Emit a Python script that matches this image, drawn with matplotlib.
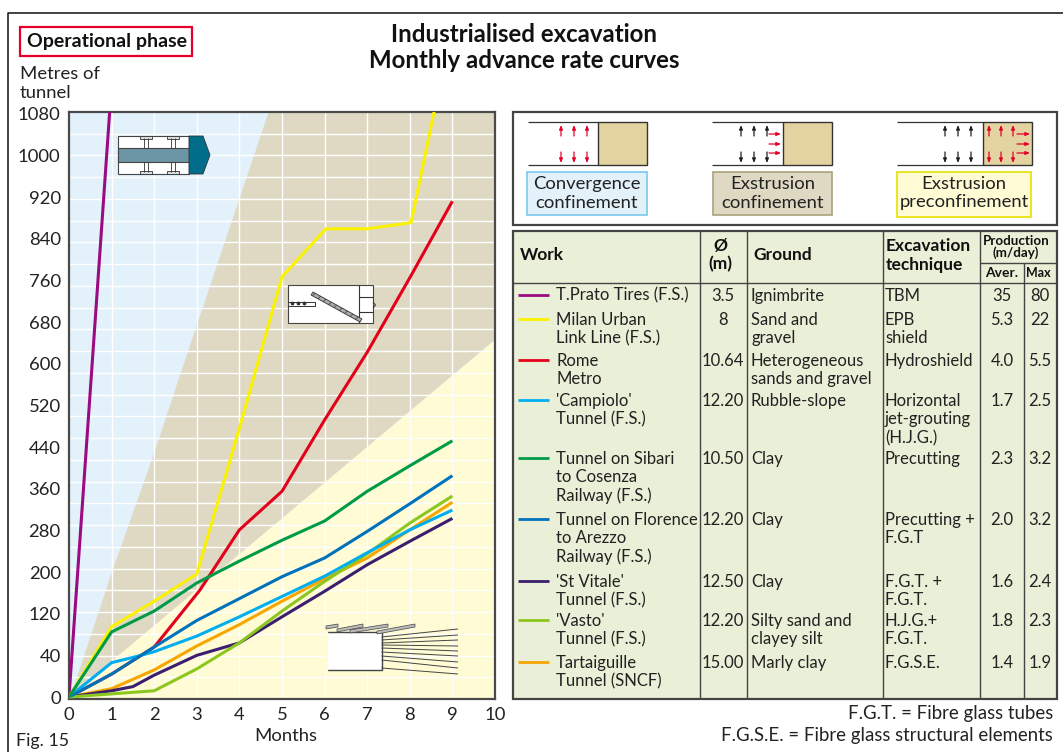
import numpy as np
import matplotlib
matplotlib.use("Agg")
import matplotlib.pyplot as plt
from matplotlib.patches import Rectangle, Polygon
from matplotlib.scale import FuncScale

FONT = "Lato"
plt.rcParams["font.family"] = [FONT, "DejaVu Sans"]
plt.rcParams["hatch.linewidth"] = 0.5
INK = "#222222"
FS = 13.3

# ---------- data ----------
months_full = [0, 1, 2, 3, 4, 5, 6, 7, 8, 9]
prato_x = [0, 0.955]
prato_y = [0, 1084]
milan_x = [0, 1, 2, 3, 4, 5, 6.03, 7, 8.03, 8.57]
milan_y = [0, 95, 144, 196, 476, 767, 859, 859, 871, 1084]
rome_x = [0, 1, 2, 3.07, 4, 5, 6, 7, 8, 9]
rome_y = [0, 22, 56, 165, 281, 355, 492, 622, 765, 912]
campiolo_x = [0, 1, 1.5, 2, 3, 4, 5, 6, 7, 8, 9]
campiolo_y = [0, 33, 38, 47, 77, 114, 153, 192, 237, 281, 319]
sibari_y = [0, 85, 125, 179, 221, 261, 298, 355, 404, 452]
florence_y = [0, 22, 56, 107, 149, 191, 227, 278, 331, 385]
vitale_x = [0, 1, 1.5, 2, 3, 4, 5, 6, 7, 8, 9]
vitale_y = [0, 6, 10, 21, 40, 64, 114, 163, 214, 259, 303]
vasto_y = [0, 3, 6, 27, 64, 125, 182, 235, 294, 346]
tartaiguille_y = [0, 8, 26, 58, 99, 144, 187, 227, 281, 334]

y_ticks = [0, 40, 120, 200, 280, 360, 440, 520, 600, 680, 760, 840, 920, 1000, 1080]
x_ticks = [0, 1, 2, 3, 4, 5, 6, 7, 8, 9, 10]

zone_blue_x = [0, 0.09, 1.0, 2.02, 2.56, 4.69]
zone_blue_y = [0, 7, 198, 433, 567, 1084]
zone_yellow_x = [0, 10, 10, 0]
zone_yellow_y = [0, 646, -2, -2]

colors = {
    "prato": "#9B0A82", "milan": "#FAF200", "rome": "#E2001A", "campiolo": "#00AEEF",
    "sibari": "#009B48", "florence": "#0072BC", "vitale": "#3B1E6E",
    "vasto": "#8CC71F", "tartaiguille": "#F7A600",
}

works = [["T.Prato Tires (F.S.)"], ["Milan Urban", "Link Line (F.S.)"], ["Rome", "Metro"],
         ["'Campiolo'", "Tunnel (F.S.)"], ["Tunnel on Sibari", "to Cosenza", "Railway (F.S.)"],
         ["Tunnel on Florence", "to Arezzo", "Railway (F.S.)"], ["'St Vitale'", "Tunnel (F.S.)"],
         ["'Vasto'", "Tunnel (F.S.)"], ["Tartaiguille", "Tunnel (SNCF)"]]
work_keys = ["prato", "milan", "rome", "campiolo", "sibari", "florence", "vitale", "vasto", "tartaiguille"]
diameters = ["3.5", "8", "10.64", "12.20", "10.50", "12.20", "12.50", "12.20", "15.00"]
grounds = [["Ignimbrite"], ["Sand and", "gravel"], ["Heterogeneous", "sands and gravel"], ["Rubble-slope"],
           ["Clay"], ["Clay"], ["Clay"], ["Silty sand and", "clayey silt"], ["Marly clay"]]
techniques = [["TBM"], ["EPB", "shield"], ["Hydroshield"], ["Horizontal", "jet-grouting", "(H.J.G.)"],
              ["Precutting"], ["Precutting +", "F.G.T"], ["F.G.T. +", "F.G.T."], ["H.J.G.+", "F.G.T."], ["F.G.S.E."]]
aver = ["35", "5.3", "4.0", "1.7", "2.3", "2.0", "1.6", "1.8", "1.4"]
maxi = ["80", "22", "5.5", "2.5", "3.2", "3.2", "2.4", "2.3", "1.9"]

# ---------- figure ----------
W, H = 1063, 752
fig = plt.figure(figsize=(W / 100, H / 100), dpi=100, facecolor="white")
ax = fig.add_axes([69 / W, 1 - 699 / H, 426 / W, 587 / H])


def fwd(v):
    v = np.asarray(v, dtype=float)
    return np.where(v < 40, v * 2, v + 40)


def inv(u):
    u = np.asarray(u, dtype=float)
    return np.where(u < 80, u / 2, u - 40)


ax.set_yscale(FuncScale(ax, (fwd, inv)))
ax.set_xlim(0, 10)
ax.set_ylim(-1.9, 1083.3)
ax.set_facecolor("#DFD9C4")
ax.fill(zone_blue_x + [0], zone_blue_y + [1084], color="#E3F1FB", lw=0, zorder=1)
ax.fill(zone_yellow_x, zone_yellow_y, color="#FEFBD5", lw=0, zorder=1)
for k in range(1, 27):
    ax.plot([0, 1], [k / 27, k / 27], transform=ax.transAxes, color="white", lw=1.0, zorder=2)
for m in x_ticks[1:-1]:
    ax.axvline(m, color="white", lw=1.0, zorder=2)

LW = 2.2
series = [("prato", prato_x, prato_y), ("rome", rome_x, rome_y), ("tartaiguille", months_full, tartaiguille_y),
          ("vitale", vitale_x, vitale_y), ("vasto", months_full, vasto_y),
          ("campiolo", campiolo_x, campiolo_y),
          ("florence", months_full, florence_y), ("milan", milan_x, milan_y),
          ("sibari", months_full, sibari_y)]
for key, xs, ys in series:
    ax.plot(xs, ys, color=colors[key], lw=LW, zorder=3, solid_joinstyle="miter", solid_capstyle="butt")

ax.set_xticks(x_ticks)
ax.set_yticks(y_ticks)
ax.set_yticklabels([str(v) for v in y_ticks])
ax.minorticks_off()
ax.tick_params(length=0, labelsize=FS, labelcolor=INK, pad=6)
for s in ax.spines.values():
    s.set_linewidth(1.6)
    s.set_color("#4a4a4a")

# ---------- overlay in figure pixels ----------
ov = fig.add_axes([0, 0, 1, 1], zorder=5)
ov.set_xlim(0, W)
ov.set_ylim(H, 0)
ov.axis("off")


def T(x, y, s, size=FS, ha="left", weight="normal", color=INK, va="center"):
    ov.text(x, y, s, fontsize=size, ha=ha, va=va, fontweight=weight, color=color, zorder=20)


def L(xs, ys, color="#333333", lw=0.8, z=6):
    ov.plot(xs, ys, color=color, lw=lw, zorder=z, solid_capstyle="butt")


def R(x0, y0, x1, y1, fc="white", ec="#333333", lw=0.8, z=5):
    ov.add_patch(Rectangle((x0, y0), x1 - x0, y1 - y0, facecolor=fc, edgecolor=ec, lw=lw, zorder=z))


# page frame
L([7.5, 7.5, W], [H, 12.5, 12.5], color="#111111", lw=1.1)
R(19.5, 27, 192, 56, fc="white", ec="#E4002B", lw=1.6)
T(27, 41.5, "Operational phase", size=14, weight="bold", color="#111111")
T(524, 35, "Industrialised excavation", size=17.3, ha="center", weight="bold", color="#111111")
T(524, 60, "Monthly advance rate curves", size=17.3, ha="center", weight="bold", color="#111111")
T(20, 74, "Metres of")
T(20, 93, "tunnel")
T(16, 741, "Fig. 15", size=12.8)
T(286, 736, "Months", ha="center")
T(1053, 714, "F.G.T. = Fibre glass tubes", ha="right", size=13.45)
T(1053, 735, "F.G.S.E. = Fibre glass structural elements", ha="right", size=13.45)

# TBM schematic
R(118, 136, 189, 174, fc="white", ec="#444444")
R(118, 148, 189, 162, fc="#6C96A5", ec="#444444")
for cx in [146, 173]:
    for y0, y1 in [(138, 148), (162, 172)]:
        L([cx - 2, cx - 2], [y0, y1], lw=0.6)
        L([cx + 2, cx + 2], [y0, y1], lw=0.6)
    R(cx - 6, 136, cx + 6, 139, fc="#dddddd", lw=0.6)
    R(cx - 6, 171, cx + 6, 174, fc="#dddddd", lw=0.6)
ov.add_patch(Polygon([(189, 136), (203, 136), (210, 155), (203, 174), (189, 174)],
                     facecolor="#006D8A", edgecolor="#333333", lw=0.6, zorder=6))

# Pre-support schematic
R(288, 285, 373, 323, fc="white", ec="#444444")
L([288, 315, 315, 288], [301.5, 301.5, 306, 306], lw=0.7)
L([359, 359], [285, 323])
L([359, 373], [297, 297])
L([359, 373], [312, 312])
L([373, 375.5, 373], [302, 305, 308], lw=0.7)
ov.scatter([292, 298, 304], [302.5, 302.5, 302.5], s=3, color="#333333", zorder=7)
ov.add_patch(Polygon([(311, 295), (313, 292), (362, 319), (360, 322)],
                     facecolor="#aaaaaa", edgecolor="#333333", lw=0.6, hatch="////", zorder=6))

# Umbrella schematic
R(326, 632, 381.5, 670, fc="white", ec="#444444", lw=1.0)
ov.add_patch(Rectangle((325, 625), 2, 46, color="#FEFBD5", zorder=6))
for (x0, y0, x1, y1) in [(326, 626, 338, 624), (337, 629, 363, 624), (350, 630, 388, 624), (377, 631, 415, 624)]:
    ov.add_patch(Polygon([(x0, y0), (x1, y1), (x1, y1 + 3), (x0, y0 + 3)],
                         facecolor="#bbbbbb", edgecolor="#444444", lw=0.5, zorder=6))
for y0, y1 in zip([637, 640, 643, 645, 648, 652, 656, 660, 668],
                  [629, 635, 640, 646, 651, 656, 662, 668, 674]):
    L([381.5, 458], [y0, y1], color="#444444", lw=0.7)

# Top box
R(512.5, 112, 1057, 225, fc="white", ec="#444444", lw=1.6)
RED = "#E4002B"
BK = "#222222"


def arrow(x0, y0, x1, y1, c):
    ov.annotate("", xy=(x1, y1), xytext=(x0, y0), zorder=8,
                arrowprops=dict(arrowstyle="-|>,head_width=0.1,head_length=0.25", color=c, lw=0.9,
                                shrinkA=0, shrinkB=0))


def diagram(x0, x1, x2, xa, wall, face, inside):
    L([x0, x1], [122, 122], lw=0.9)
    L([x0, x1], [165, 165], lw=0.9)
    R(x1, 122, x2, 165, fc="#E2D3A0", ec="#333333", lw=1.0)
    for a in xa:
        arrow(a, 136, a, 125, wall)
        arrow(a, 152, a, 163, wall)
    if face:
        for yy in [134, 144, 153]:
            arrow(x1 - 14 if not inside else x1 + 34, yy, x1 - 2 if not inside else x1 + 47, yy, RED)
    if inside:
        for a in [x1 + 6, x1 + 18, x1 + 30]:
            arrow(a, 136, a, 125, RED)
            arrow(a, 152, a, 163, RED)


diagram(528, 598, 647, [561, 574, 587], RED, False, False)
diagram(712, 783, 832, [741, 754, 767], BK, True, False)
diagram(897, 983, 1032, [945, 958, 971], BK, True, True)

for x0, x1, y1, fc, ec, lines in [
    (527, 647, 215, "#E3F1FB", "#7CC8EE", ["Convergence", "confinement"]),
    (713, 832, 215, "#DFD9C4", "#A9A27C", ["Exstrusion", "confinement"]),
    (897, 1031, 217, "#FEFBD5", "#E8E000", ["Exstrusion", "preconfinement"]),
]:
    R(x0, 172, x1, y1, fc=fc, ec=ec, lw=1.2)
    T((x0 + x1) / 2, 184, lines[0], ha="center")
    T((x0 + x1) / 2, 202.5, lines[1], ha="center")

# Table
R(512.5, 231, 1057, 699, fc="#EAEFD7", ec="#444444", lw=1.6)
for x in [700, 747, 883, 980]:
    L([x, x], [231, 699], color="#444444", lw=1.0)
L([1024, 1024], [263, 699], color="#444444", lw=1.0)
L([512.5, 1057], [283, 283], color="#444444", lw=1.0)
L([980, 1057], [263, 263], color="#444444", lw=1.0)
HS = 12.5
BLK = "#111111"
T(520, 255, "Work", size=HS, weight="bold", color=BLK)
T(720, 246, "Ø", size=HS, ha="center", weight="bold", color=BLK)
T(720, 264, "(m)", size=HS, ha="center", weight="bold", color=BLK)
T(753, 255, "Ground", size=HS, weight="bold", color=BLK)
T(886, 246, "Excavation", size=HS, weight="bold", color=BLK)
T(886, 265, "technique", size=HS, weight="bold", color=BLK)
T(1016, 241, "Production", size=9.6, ha="center", weight="bold", color=BLK)
T(1016, 253, "(m/day)", size=9.6, ha="center", weight="bold", color=BLK)
T(1001.5, 273, "Aver.", size=10, ha="center", weight="bold", color=BLK)
T(1038, 273, "Max", size=9, ha="center", weight="bold", color=BLK)

row_y = [295, 319, 360, 400, 458, 519, 581, 620, 662]
LH = 18.6
TS = 12.0
for i, y in enumerate(row_y):
    L([518, 549], [y, y], color=colors[work_keys[i]], lw=2.0)
    for j, s in enumerate(works[i]):
        T(556, y + 0.8 + j * LH, s, size=TS)
    T(723, y + 0.8, diameters[i], ha="center", size=TS)
    for j, s in enumerate(grounds[i]):
        T(751, y + 0.8 + j * LH, s, size=TS)
    for j, s in enumerate(techniques[i]):
        T(885, y + 0.8 + j * LH, s, size=TS)
    T(1002, y + 0.8, aver[i], ha="center", size=TS)
    T(1040, y + 0.8, maxi[i], ha="center", size=TS)

fig.savefig("out.png", dpi=100)
